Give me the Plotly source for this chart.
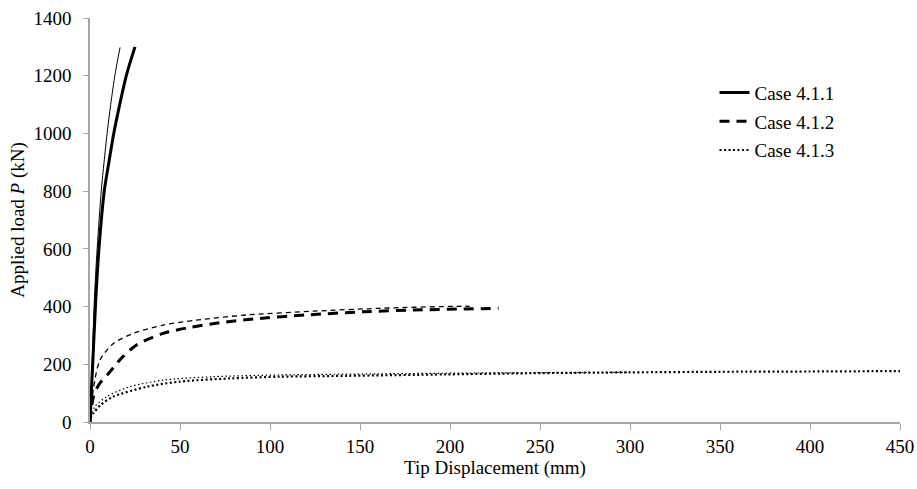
import plotly.graph_objects as go

# Case 4.1.1 (thick = legend series, thin = companion curve)
c1_x = [0, 0.7, 1.5, 3.2, 5.0, 8.0, 10.5, 13.2, 16.5, 20.5, 25.0]
c1_y = [0, 100, 200, 423, 603, 804, 900, 1000, 1100, 1208, 1300]
c1b_x = [0, 1.2, 2.4, 4.0, 6.3, 7.8, 9.5, 11.5, 14.0, 16.7]
c1b_y = [0, 200, 420, 603, 804, 900, 1000, 1100, 1208, 1298]

# Case 4.1.2
c2_x = [0, 1.9, 5.0, 11.1, 18.0, 25.9, 40.7, 55.6, 72.0, 90.7, 120.4, 151.9, 179.6, 227.0]
c2_y = [0, 88, 130, 174, 225, 267, 307, 328, 344, 357, 371, 382, 388, 394]
c2b_x = [0, 2.0, 5.6, 13.0, 24.0, 40.7, 59.0, 87.0, 124.0, 161.0, 203.7, 211.0]
c2b_y = [0, 120, 215, 272, 307, 336, 353, 371, 384, 394, 401, 401]

# Case 4.1.3
c3_x = [0, 1.9, 6.0, 13.0, 31.5, 50.0, 77.8, 105.6, 142.6, 198.0, 244.0, 300.0, 350.0, 400.0, 435.0, 450.0]
c3_y = [15, 30, 60, 88, 122, 140, 151, 157, 160, 165, 169, 172, 174, 175, 176, 176]
c3b_x = [0, 3.0, 9.3, 22.0, 40.7, 68.5, 105.6, 161.0, 220.0, 300.0]
c3b_y = [20, 55, 88, 122, 145, 157, 163, 167, 170, 172]

x_ticks = [0, 50, 100, 150, 200, 250, 300, 350, 400, 450]
y_ticks = [0, 200, 400, 600, 800, 1000, 1200, 1400]

FONT = "Times New Roman, Liberation Serif, serif"
FS = 19

fig = go.Figure()
fig.add_trace(go.Scatter(x=c1b_x, y=c1b_y, mode="lines", showlegend=False,
                         line=dict(color="black", width=1, shape="spline", smoothing=0.8)))
fig.add_trace(go.Scatter(x=c2b_x, y=c2b_y, mode="lines", showlegend=False,
                         line=dict(color="black", width=1.3, dash="5px,4px", shape="spline", smoothing=0.8)))
fig.add_trace(go.Scatter(x=c3b_x, y=c3b_y, mode="lines", showlegend=False,
                         line=dict(color="black", width=1.2, dash="1.5px,2.5px", shape="spline", smoothing=0.8)))
fig.add_trace(go.Scatter(x=c1_x, y=c1_y, mode="lines", name="Case 4.1.1", legendgroup="a",
                         line=dict(color="black", width=3, shape="spline", smoothing=0.8)))
fig.add_trace(go.Scatter(x=c2_x, y=c2_y, mode="lines", name="Case 4.1.2", legendgroup="b",
                         line=dict(color="black", width=3, dash="10px,7px", shape="spline", smoothing=0.8)))
fig.add_trace(go.Scatter(x=c3_x, y=c3_y, mode="lines", name="Case 4.1.3", legendgroup="c",
                         line=dict(color="black", width=2.2, dash="2px,2.5px", shape="spline", smoothing=0.8)))

fig.update_layout(
    template="none",
    width=917, height=489,
    margin=dict(l=90, r=17, t=18, b=67),
    paper_bgcolor="white", plot_bgcolor="white",
    font=dict(family=FONT, size=FS, color="black"),
    legend=dict(x=0.771, y=0.862, xanchor="left", yanchor="top",
                bgcolor="rgba(0,0,0,0)", font=dict(family=FONT, size=FS, color="black"),
                tracegroupgap=1, itemwidth=30),
    xaxis=dict(range=[0, 450], tickvals=x_ticks, showgrid=False, zeroline=False,
               showline=True, linecolor="#a6a6a6", linewidth=1.5,
               ticks="outside", tickcolor="#a6a6a6", ticklen=6, ticklabelstandoff=0,
               title=dict(text="Tip Displacement (mm)", font=dict(family=FONT, size=FS, color="black"), standoff=2),
               tickfont=dict(family=FONT, size=FS, color="black")),
    yaxis=dict(range=[0, 1400], tickvals=y_ticks, showgrid=False, zeroline=False,
               showline=True, linecolor="#a6a6a6", linewidth=1.5,
               ticks="outside", tickcolor="#a6a6a6", ticklen=5, ticklabelstandoff=8,
               title=dict(text="Applied load <i>P</i> (kN)", font=dict(family=FONT, size=FS, color="black"), standoff=4),
               tickfont=dict(family=FONT, size=FS, color="black")),
)

fig.write_html("out.html")
